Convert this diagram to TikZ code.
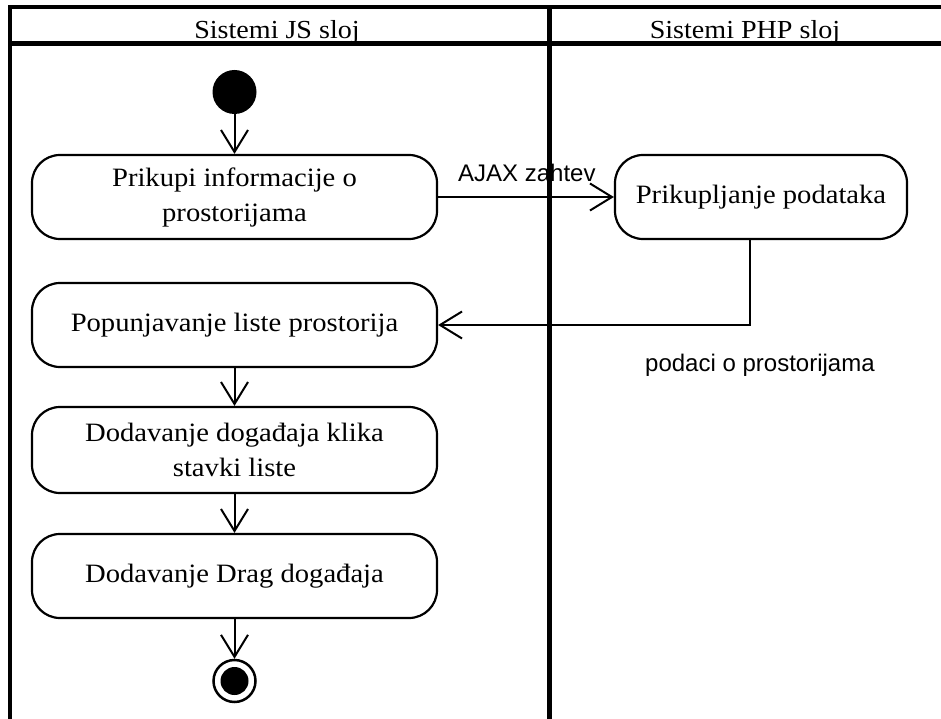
\documentclass[tikz,border=0pt]{standalone}
\usepackage{fontspec}
\newfontfamily\labelfont{Liberation Sans}
\newfontfamily\boxfont{Liberation Serif}[FakeStretch=1.08]
\usetikzlibrary{arrows.meta}

\begin{document}
\begin{tikzpicture}[x=1pt,y=-1pt,
  lane/.style={line width=4pt},
  headtext/.style={anchor=base, inner sep=0pt, font=\boxfont\fontsize{26}{33}\selectfont},
  activity/.style={draw, line width=2.2pt, rounded corners=28pt,
    minimum height=84pt, align=center, inner sep=0pt,
    font=\boxfont\fontsize{26.5}{35}\selectfont},
  flow/.style={line width=2pt,
    -{Straight Barb[length=22pt,width=27pt,line width=2pt]}},
  flowlabel/.style={anchor=base west, inner sep=0pt,
    font=\labelfont\fontsize{24}{28}\selectfont},
]
\useasboundingbox (0,0) rectangle (941,719);

% swimlane headings
\node[headtext] (hjs)  at (277,39) {Sistemi JS sloj};
\node[headtext] (hphp) at (745,39) {Sistemi PHP sloj};

% initial and final states
\node[circle, fill, minimum size=44pt, inner sep=0pt] (start) at (234.5,92) {};
\node[circle, draw, line width=2.5pt, minimum size=42pt, inner sep=0pt] (stop) at (234.5,681) {};
\node[circle, fill, minimum size=28pt, inner sep=0pt] (stopdot) at (234.5,681) {};

% activities
\node[activity, minimum width=405pt] (a1) at (234.5,197) {Prikupi informacije o\\prostorijama};
\node[activity, minimum width=292pt] (a2) at (761,197) {Prikupljanje podataka};
\node[activity, minimum width=405pt] (a3) at (234.5,325) {Popunjavanje liste prostorija};
\node[activity, minimum width=405pt, minimum height=86pt] (a4) at (234.5,450) {Dodavanje događaja klika\\stavki liste};
\node[activity, minimum width=405pt] (a5) at (234.5,576) {Dodavanje Drag događaja};

% control flow
\draw[flow] (start) -- (a1);
\draw[flow] (a1) -- (a2);
\draw[flow] ([xshift=-11pt]a2.south) |- (a3.east);
\draw[flow] (a3) -- (a4);
\draw[flow] (a4) -- (a5);
\draw[flow] (a5) -- (stop);

% connector labels
\node[flowlabel] (lajax) at (458,182) {AJAX zahtev};
\node[flowlabel] (ldata) at (645,371) {podaci o prostorijama};

% swimlane frame
\draw[lane] (9.5,719) -- (9.5,7.5) -- (941,7.5);
\draw[lane, line width=5pt] (9.5,43.5) -- (941,43.5);
\draw[lane, line width=5pt] (549,7.5) -- (549,719);
\end{tikzpicture}
\end{document}
